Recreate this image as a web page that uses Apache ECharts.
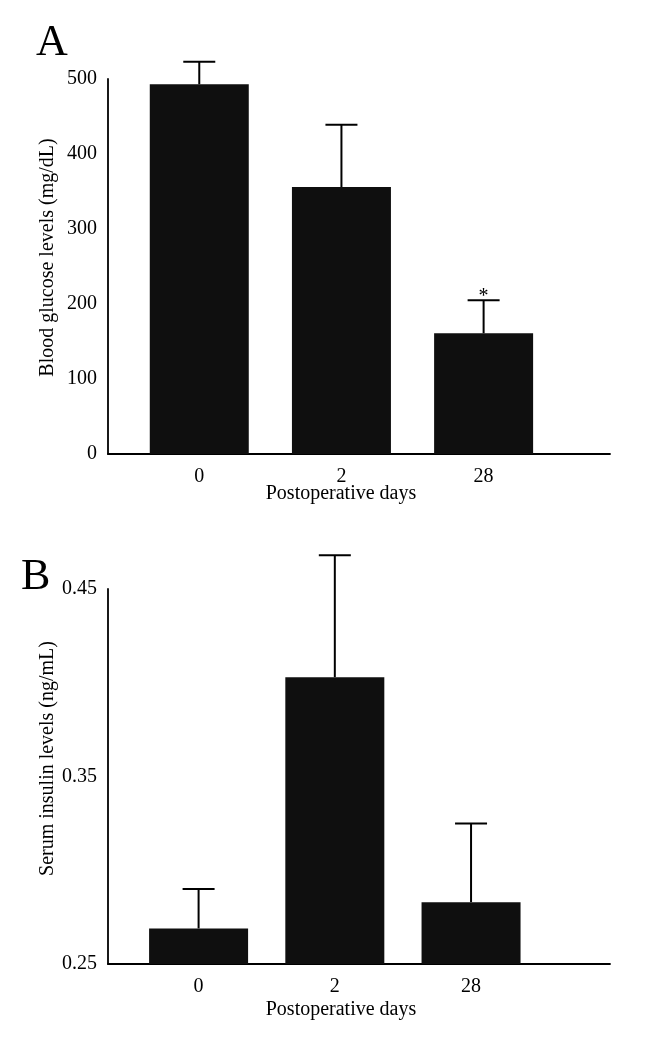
<!DOCTYPE html>
<html>
<head>
<meta charset="utf-8">
<script src="https://cdn.jsdelivr.net/npm/echarts@6/dist/echarts.min.js"></script>
<style>
html,body{margin:0;padding:0;background:#fff;}
#chart{width:647px;height:1037px;}
</style>
</head>
<body>
<div id="chart"></div>
<script>
// ---- data ----
const categories = ['0', '2', '28'];
const glucoseMean = [493, 356, 161];
const glucoseUpper = [523, 439, 205];
const glucoseMarks = ['', '', '*'];
const glucoseTicks = [0, 100, 200, 300, 400, 500];
const insulinMean = [0.269, 0.403, 0.283];
const insulinUpper = [0.290, 0.468, 0.325];
const insulinMarks = ['', '', ''];
const insulinTicks = [0.25, 0.35, 0.45];
const panelLetters = ['A', 'B'];
const xTitle = 'Postoperative days';
const yTitles = ['Blood glucose levels (mg/dL)', 'Serum insulin levels (ng/mL)'];

const FONT = "'Liberation Serif', 'Times New Roman', serif";
const chart = echarts.init(document.getElementById('chart'), null, {renderer: 'canvas'});

function barData(mean) {
  return mean.map((v, i) => [i, v]);
}
function errData(mean, upper, marks) {
  return mean.map((v, i) => [i, v, upper[i], marks[i]]);
}
function errRender(params, api) {
  const x = api.value(0);
  const p0 = api.coord([x, api.value(1)]);
  const p1 = api.coord([x, api.value(2)]);
  const mark = api.value(3);
  const cap = 16;
  const children = [
    {type: 'line', shape: {x1: p0[0], y1: p0[1], x2: p1[0], y2: p1[1]}, style: {stroke: '#000', lineWidth: 2}},
    {type: 'line', shape: {x1: p1[0] - cap, y1: p1[1], x2: p1[0] + cap, y2: p1[1]}, style: {stroke: '#000', lineWidth: 2}}
  ];
  if (mark) {
    children.push({type: 'text', x: p1[0], y: p1[1] - 4,
      style: {text: mark, fill: '#000', font: "20px " + FONT, align: 'center', verticalAlign: 'middle'}});
  }
  return {type: 'group', children: children};
}

function xAxisCfg(gridIndex, min, max, nameGap) {
  return {
    type: 'value', gridIndex: gridIndex, min: min, max: max,
    splitLine: {show: false},
    axisTick: {show: false},
    axisLine: {onZero: false, lineStyle: {color: '#000', width: 1.8}},
    axisLabel: {
      customValues: categories.map((c, i) => i),
      formatter: v => categories[Math.round(v)],
      color: '#000', fontFamily: FONT, fontSize: 20, margin: 13
    },
    name: xTitle, nameLocation: 'middle', nameGap: nameGap, nameMoveOverlap: false,
    nameTextStyle: {color: '#000', fontFamily: FONT, fontSize: 20, padding: [0, 36, 0, 0]}
  };
}
function yAxisCfg(gridIndex, ticks, name, shift) {
  return {
    type: 'value', gridIndex: gridIndex,
    min: ticks[0], max: ticks[ticks.length - 1], interval: ticks[1] - ticks[0],
    splitLine: {show: false},
    axisTick: {show: false},
    axisLine: {show: true, onZero: false, lineStyle: {color: '#000', width: 1.8}},
    axisLabel: {color: '#000', fontFamily: FONT, fontSize: 20, margin: 11,
      formatter: v => String(+v.toFixed(2))},
    name: name, nameLocation: 'middle', nameGap: 50, nameMoveOverlap: false,
    nameTextStyle: {color: '#000', fontFamily: FONT, fontSize: 20, padding: [0, 0, 0, shift]}
  };
}

const option = {
  backgroundColor: '#fff',
  animation: false,
  graphic: [
    {type: 'text', left: 36, top: 21, style: {text: panelLetters[0], font: "44px " + FONT, fill: '#000'}},
    {type: 'text', left: 21, top: 555, style: {text: panelLetters[1], font: "44px " + FONT, fill: '#000'}}
  ],
  grid: [
    {left: 108, right: 37, top: 79, bottom: 1037 - 454},
    {left: 108, right: 37, top: 589, bottom: 1037 - 964}
  ],
  xAxis: [
    xAxisCfg(0, -0.642, 2.889, 30),
    xAxisCfg(1, -0.665, 3.02, 36)
  ],
  yAxis: [
    yAxisCfg(0, glucoseTicks, yTitles[0], 18),
    yAxisCfg(1, insulinTicks, yTitles[1], 36)
  ],
  series: [
    {type: 'bar', xAxisIndex: 0, yAxisIndex: 0, data: barData(glucoseMean), barWidth: 99,
      itemStyle: {color: '#0f0f0f'}},
    {type: 'custom', xAxisIndex: 0, yAxisIndex: 0, data: errData(glucoseMean, glucoseUpper, glucoseMarks),
      renderItem: errRender, z: 3},
    {type: 'bar', xAxisIndex: 1, yAxisIndex: 1, data: barData(insulinMean), barWidth: 99,
      itemStyle: {color: '#0f0f0f'}},
    {type: 'custom', xAxisIndex: 1, yAxisIndex: 1, data: errData(insulinMean, insulinUpper, insulinMarks),
      renderItem: errRender, z: 3}
  ]
};
chart.setOption(option);
</script>
</body>
</html>
